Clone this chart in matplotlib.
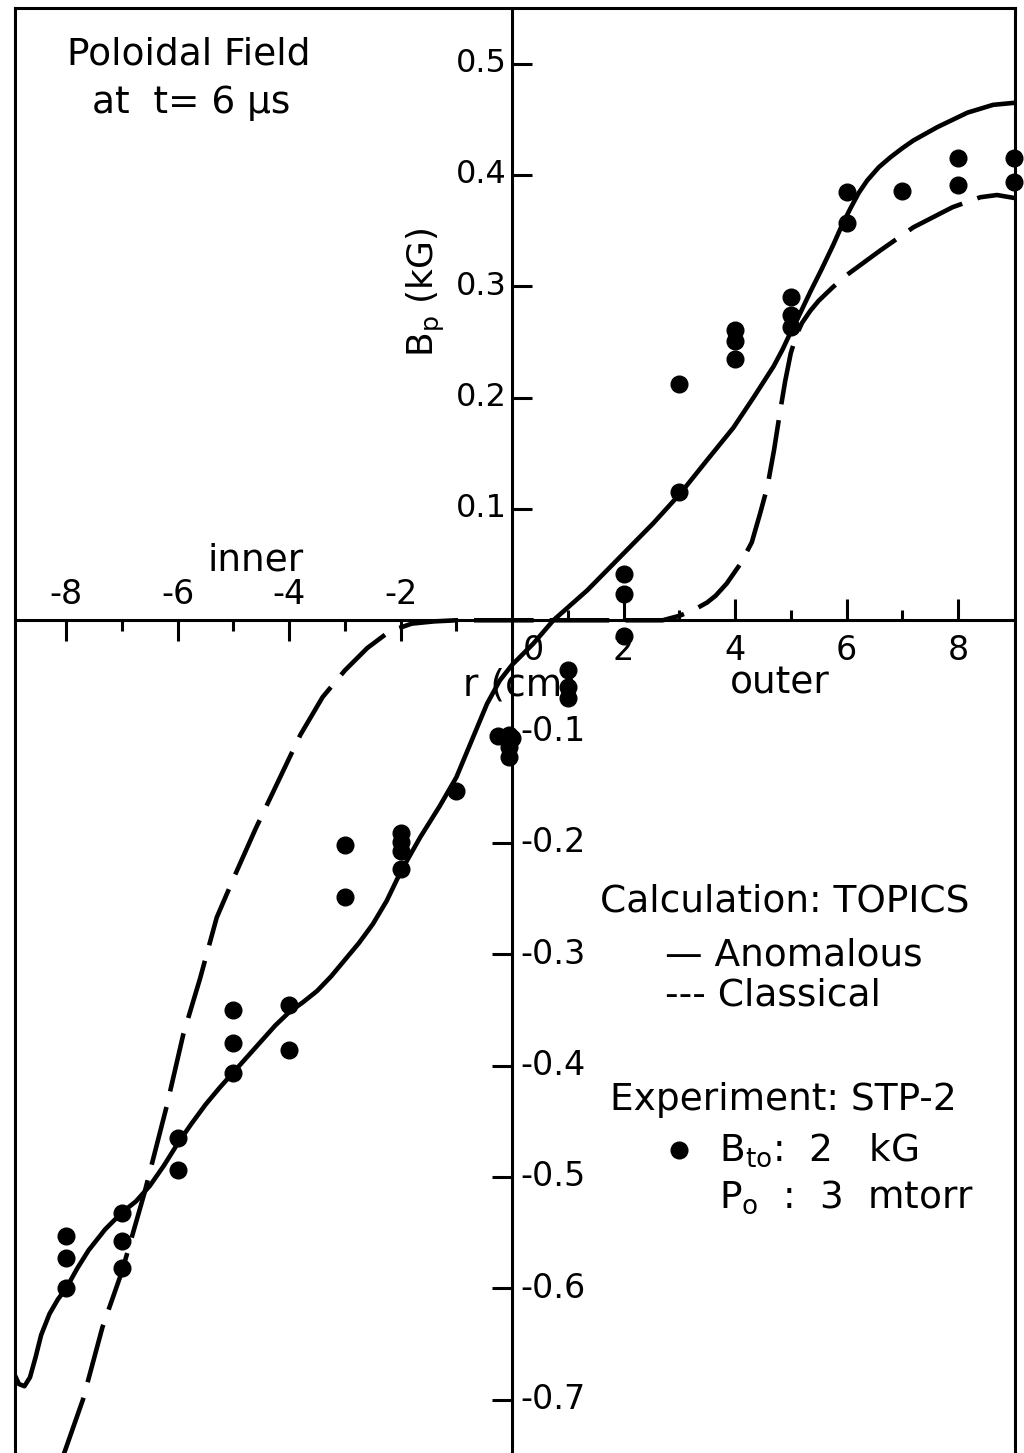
import matplotlib
matplotlib.use("Agg")
import matplotlib.pyplot as plt
import numpy as np

# measured points, r (cm) vs Bp (kG)
r_dots = [9, 9, 8, 8, 7, 6, 6, 5, 5, 5, 4, 4, 4, 3, 3, 2, 2, 2,
          1, 1, 1, -0.25, -0.05, 0.0, -0.05, -0.05, -1, -2, -2, -2, -2, -3, -3,
          -4, -4, -5, -5, -5, -6, -6, -7, -7, -7, -8, -8, -8]
bp_dots = [0.415, 0.394, 0.415, 0.391, 0.386, 0.385, 0.357, 0.290, 0.274, 0.263,
           0.261, 0.251, 0.235, 0.212, 0.115, 0.042, 0.024, -0.014,
           -0.045, -0.060, -0.070, -0.104, -0.103, -0.106, -0.114, -0.123, -0.153,
           -0.191, -0.199, -0.207, -0.223, -0.202, -0.249,
           -0.346, -0.386, -0.350, -0.380, -0.407, -0.465, -0.494,
           -0.532, -0.558, -0.582, -0.553, -0.573, -0.600]

# TOPICS, anomalous (solid)
r_anom = [-9.05, -8.95, -8.85, -8.75, -8.65, -8.55, -8.45, -8.3, -8.15, -8.0,
          -7.8, -7.6, -7.3, -7.0, -6.75, -6.5, -6.25, -6.0, -5.75, -5.5,
          -5.25, -5.0, -4.75, -4.5, -4.25, -4.0, -3.75, -3.5, -3.25, -3.0,
          -2.75, -2.5, -2.25, -2.0, -1.65, -1.3, -1.0, -0.7, -0.45, -0.22,
          0.0, 0.38, 0.74, 1.35, 1.94, 2.53, 3.02, 3.5, 3.97, 4.33,
          4.69, 4.85, 5.0, 5.17, 5.35, 5.55, 5.76, 5.92, 6.07, 6.22, 6.37,
          6.58, 6.79, 7.0, 7.2, 7.63, 8.17, 8.63, 9.05]
bp_anom = [-0.655, -0.675, -0.686, -0.688, -0.680, -0.662, -0.642, -0.623, -0.610, -0.600,
           -0.582, -0.566, -0.547, -0.532, -0.522, -0.508, -0.490, -0.470, -0.452, -0.435,
           -0.420, -0.406, -0.392, -0.378, -0.364, -0.352, -0.343, -0.333, -0.320, -0.305,
           -0.290, -0.273, -0.252, -0.226, -0.195, -0.167, -0.141, -0.105, -0.075, -0.054,
           -0.040, -0.021, 0.0, 0.027, 0.057, 0.087, 0.114, 0.144, 0.173, 0.200,
           0.228, 0.243, 0.259, 0.276, 0.295, 0.315, 0.337, 0.355, 0.370, 0.384, 0.395,
           0.407, 0.416, 0.424, 0.431, 0.443, 0.456, 0.463, 0.465]

# TOPICS, classical (dashed)
r_class = [-8.05, -7.7, -7.35, -7.0, -6.6, -6.2, -5.9, -5.6, -5.3, -5.0,
           -4.6, -4.2, -3.8, -3.4, -3.0, -2.6, -2.2, -1.8, -1.4, -1.0,
           2.7, 3.0, 3.25, 3.5, 3.65, 3.85, 4.1, 4.3, 4.45, 4.58, 4.7, 4.8,
           4.9, 5.0, 5.1, 5.2, 5.35, 5.5, 5.75, 6.0, 6.6, 7.2, 7.9, 8.4, 8.7, 9.05]
bp_class = [-0.750, -0.700, -0.635, -0.585, -0.515, -0.437, -0.372, -0.322, -0.267, -0.232,
            -0.187, -0.145, -0.103, -0.069, -0.045, -0.025, -0.010, -0.003, -0.001, 0.0,
            0.0, 0.004, 0.009, 0.016, 0.022, 0.033, 0.051, 0.070, 0.096, 0.120, 0.153, 0.185,
            0.215, 0.240, 0.256, 0.267, 0.278, 0.287, 0.299, 0.310, 0.332, 0.353, 0.371, 0.380,
            0.382, 0.379]

x_major_neg = [-8, -6, -4, -2]
x_minor_neg = [-7, -5, -3, -1]
x_major_pos = [2, 4, 6, 8]
x_minor_pos = [1, 3, 5, 7]
y_pos = [0.1, 0.2, 0.3, 0.4, 0.5]
y_neg = [-0.1, -0.2, -0.3, -0.4, -0.5, -0.6, -0.7]

plt.rcParams["font.family"] = "DejaVu Sans"
TS = 24   # tick labels
FS = 27   # annotations

fig = plt.figure(figsize=(10.24, 14.53), dpi=100)
ax = fig.add_axes([0.0146, 0.0, 0.977, 0.9945])
ax.set_xlim(-8.92, 9.03)
ax.set_ylim(-0.748, 0.55)
ax.set_xticks([])
ax.set_yticks([])
for s in ["left", "right", "top"]:
    ax.spines[s].set_linewidth(2.2)
ax.spines["bottom"].set_visible(False)

# the crossed axes
ax.axhline(0, color="black", lw=2.2)
ax.axvline(0, color="black", lw=2.2)

# ticks point into the empty quadrants
tx = 0.36   # y-tick length (cm)
ty = 0.019  # x-tick length (kG)
ax.vlines(x_major_neg, -ty, 0, color="black", lw=2.2)
ax.vlines(x_minor_neg, -ty / 2, 0, color="black", lw=2.2)
ax.vlines(x_major_pos, 0, ty, color="black", lw=2.2)
ax.vlines(x_minor_pos, 0, ty / 2, color="black", lw=2.2)
ax.hlines(y_pos, 0, tx, color="black", lw=2.2)
ax.hlines(y_neg, -tx, 0, color="black", lw=2.2)

for v in x_major_neg:
    ax.text(v, 0.008, f"-{abs(v)}", ha="center", va="bottom", fontsize=TS)
for v in x_major_pos:
    ax.text(v, -0.012, f"{v}", ha="center", va="top", fontsize=TS)
ax.text(0.38, -0.012, "0", ha="center", va="top", fontsize=TS)
for v in y_pos:
    ax.text(-0.1, v, f"{v:.1f}", ha="right", va="center", fontsize=TS - 1)
for v in y_neg:
    ax.text(0.15, v, f"-{abs(v):.1f}", ha="left", va="center", fontsize=TS)

ax.plot(r_anom, bp_anom, color="black", lw=3.3, solid_capstyle="round")
ax.plot(r_class, bp_class, color="black", lw=3.3, dashes=(13, 3.5))
ax.plot(r_dots, bp_dots, "o", color="black", ms=12, clip_on=False)

ax.text(-7.98, 0.508, "Poloidal Field", fontsize=FS, va="center")
ax.text(-7.54, 0.465, "at  t= 6 μs", fontsize=FS, va="center")
ax.text(-1.55, 0.295, r"B$_\mathregular{p}$ (kG)", fontsize=FS - 1, rotation=90,
        ha="center", va="center")
ax.text(-4.61, 0.054, "inner", fontsize=FS, ha="center", va="center")
ax.text(0.14, -0.059, "r (cm)", fontsize=FS, ha="center", va="center")
ax.text(4.81, -0.057, "outer", fontsize=FS, ha="center", va="center")

ax.text(1.58, -0.253, "Calculation: TOPICS", fontsize=FS, va="center")
ax.text(2.75, -0.301, "— Anomalous", fontsize=FS, va="center")
ax.text(2.75, -0.337, "--- Classical", fontsize=FS, va="center")
ax.text(1.76, -0.431, "Experiment: STP-2", fontsize=FS, va="center")
ax.plot([3.0], [-0.476], "o", color="black", ms=12)
ax.text(3.72, -0.476, r"B$_\mathregular{to}$:  2   kG", fontsize=FS, va="center")
ax.text(3.72, -0.518, r"P$_\mathregular{o}$  :  3  mtorr", fontsize=FS, va="center")

fig.savefig("out.png", dpi=100)
